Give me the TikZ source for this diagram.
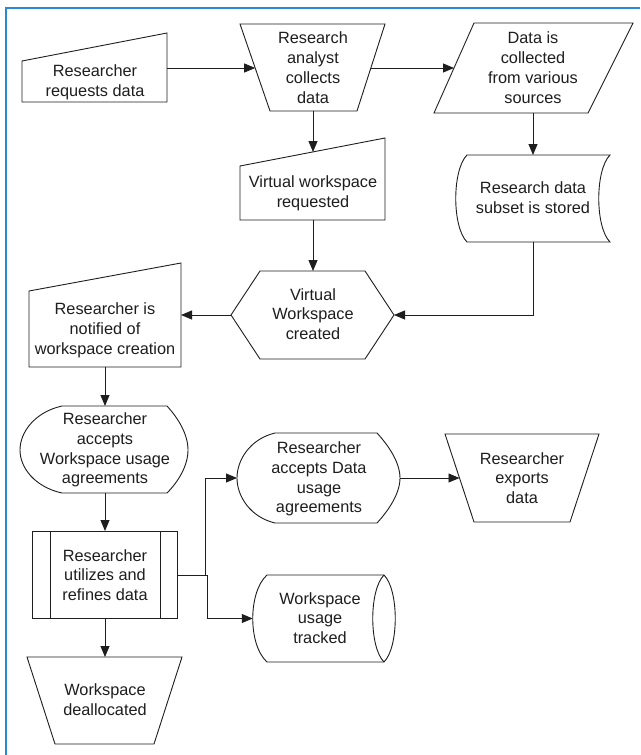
\documentclass[tikz,border=0pt]{standalone}
\usepackage{fontspec}
\setmainfont{Liberation Sans}
\usetikzlibrary{arrows.meta}
\definecolor{frameblue}{RGB}{41,137,216}
\definecolor{ink}{RGB}{30,30,30}
\begin{document}
\begin{tikzpicture}[x=1pt,y=-1pt,
  shp/.style={draw=ink,line width=0.9pt,line join=miter},
  lbl/.style={align=center,font=\fontsize{16.3}{19.8}\selectfont,text=ink,inner sep=0pt},
  arr/.style={draw=ink,line width=0.9pt,-{Triangle[length=11pt,width=9pt]}}]
\useasboundingbox (0,0) rectangle (640,755);
\fill[white] (0,0) rectangle (640,755);
\draw[frameblue,line width=2pt] (6,755) -- (6,8) -- (640,8);
% A
\draw[shp] (22,61) -- (167,33) -- (167,102) -- (22,102) -- cycle;
\node[lbl] (A) at (95,82) {Researcher\\requests data};
\coordinate (A-e) at (167,68);
% B
\draw[shp] (240,24) -- (385,24) -- (357,111) -- (270,111) -- cycle;
\node[lbl] (B) at (313,67.5) {Research\\analyst\\collects\\data};
\coordinate (B-w) at (255.2,68);
\coordinate (B-e) at (370.8,68);
\coordinate (B-s) at (313,111);
% C
\draw[shp] (474,23) -- (633,23) -- (588,113) -- (434,113) -- cycle;
\node[lbl] (C) at (533,67.5) {Data is\\collected\\from various\\sources};
\coordinate (C-w) at (454,68);
\coordinate (C-s) at (533,113);
% D
\draw[shp] (240,166) -- (385,138) -- (385,220) -- (240,220) -- cycle;
\node[lbl] (D) at (313,193) {Virtual workspace\\requested};
\coordinate (D-n) at (313,152);
\coordinate (D-s) at (313,220);
% E
\draw[shp] (467,155) -- (610,155) .. controls (595,170) and (595,227) .. (610,242) -- (467,242) .. controls (452,227) and (452,170) .. (467,155) -- cycle;
\node[lbl] (E) at (533,198) {Research data\\subset is stored};
\coordinate (E-n) at (533,155);
\coordinate (E-s) at (533,242);
% F
\draw[shp] (231,315) -- (260,271) -- (365,271) -- (394,315) -- (365,359) -- (260,359) -- cycle;
\node[lbl] (F) at (313,314) {Virtual\\Workspace\\created};
\coordinate (F-w) at (231,315);
\coordinate (F-e) at (394,315);
\coordinate (F-n) at (313,271);
% G
\draw[shp] (29,291) -- (181,263) -- (181,367) -- (29,367) -- cycle;
\node[lbl] (G) at (105,330) {Researcher is\\notified of\\workspace creation};
\coordinate (G-e) at (181,315);
\coordinate (G-s) at (105,367);
% H
\draw[shp] (62,406) -- (167,406) .. controls (178,418) and (188,434) .. (188,450) .. controls (188,466) and (178,482) .. (167,493) -- (62,493) .. controls (35,487) and (20,468) .. (20,450) .. controls (20,432) and (35,412) .. (62,406) -- cycle;
\node[lbl] (H) at (105,450) {Researcher\\accepts\\Workspace usage\\agreements};
\coordinate (H-n) at (105,406);
\coordinate (H-s) at (105,493);
% I
\draw[shp] (32,531) rectangle (177,618);
\draw[shp] (50,531) -- (50,618);
\draw[shp] (160,531) -- (160,618);
\node[lbl] (I) at (105,575) {Researcher\\utilizes and\\refines data};
\coordinate (I-n) at (105,531);
\coordinate (I-s) at (105,618);
\coordinate (I-e) at (177,575);
% J
\draw[shp] (27,657) -- (182,657) -- (154,744) -- (55,744) -- cycle;
\node[lbl] (J) at (105,700) {Workspace\\deallocated};
\coordinate (J-n) at (105,657);
% K
\draw[shp] (275,433) -- (377,433) .. controls (388,445) and (400,462) .. (400,478) .. controls (400,494) and (388,511) .. (377,523) -- (275,523) .. controls (250,517) and (237,496) .. (237,478) .. controls (237,460) and (250,439) .. (275,433) -- cycle;
\node[lbl] (K) at (319,479) {Researcher\\accepts Data\\usage\\agreements};
\coordinate (K-w) at (237,478);
\coordinate (K-e) at (400,478);
% L
\draw[shp] (445,434) -- (599,434) -- (570,522) -- (474,522) -- cycle;
\node[lbl] (L) at (522,478) {Researcher\\exports\\data};
\coordinate (L-w) at (459.5,478);
% M
\draw[shp] (267,575) -- (384,575) .. controls (399,590) and (399,647) .. (384,662) -- (267,662) .. controls (248,645) and (248,592) .. (267,575) -- cycle;
\draw[shp] (384,575) .. controls (369,590) and (369,647) .. (384,662);
\node[lbl] (M) at (320,618) {Workspace\\usage\\tracked};
\coordinate (M-w) at (252.75,618.5);
% junctions
\coordinate (j1) at (205,575);
\coordinate (j2) at (207,575);
% connectors
\draw[arr] (A-e) -- (B-w);
\draw[arr] (B-e) -- (C-w);
\draw[arr] (B-s) -- (D-n);
\draw[arr] (C-s) -- (E-n);
\draw[arr] (D-s) -- (F-n);
\draw[arr] (E-s) |- (F-e);
\draw[arr] (F-w) -- (G-e);
\draw[arr] (G-s) -- (H-n);
\draw[arr] (H-s) -- (I-n);
\draw[arr] (I-s) -- (J-n);
\draw[arr] (K-e) -- (L-w);
\draw[arr] (I-e) -- (j1) |- (K-w);
\draw[arr] (I-e) -- (j2) |- (M-w);
\end{tikzpicture}
\end{document}
